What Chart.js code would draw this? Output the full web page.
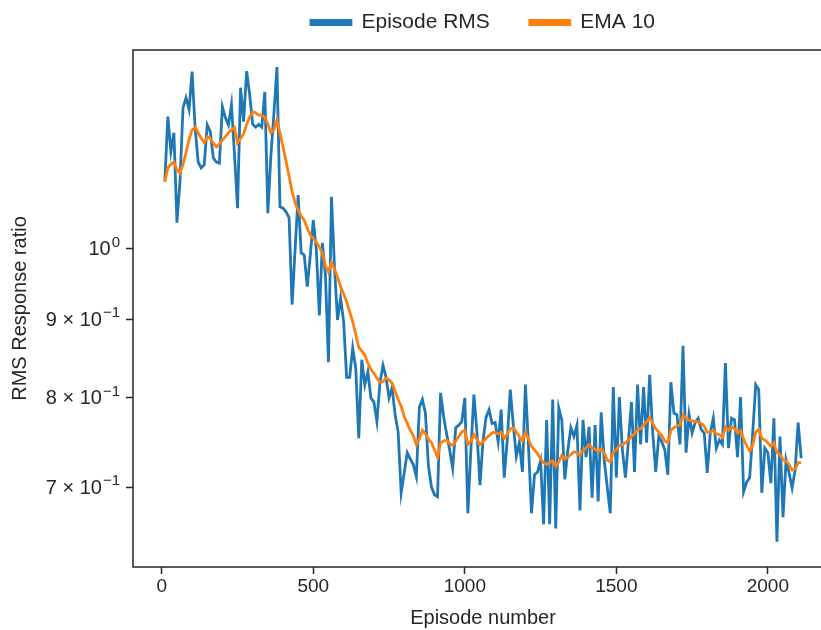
<!DOCTYPE html>
<html>
<head>
<meta charset="utf-8">
<script src="https://cdn.jsdelivr.net/npm/chart.js@4"></script>
<style>
  html, body { margin: 0; padding: 0; background: #fff; }
  #wrap { width: 821px; height: 630px; overflow: hidden; }
</style>
</head>
<body>
<div id="wrap"><canvas id="rmsChart" width="845" height="630"></canvas></div>
<script>
/* RMS response ratio per episode, log y axis, with 10-episode EMA */

const episodes = [
  10, 20, 30, 40, 50, 60, 70, 80, 90, 100,
  110, 120, 130, 140, 150, 160, 170, 180, 190, 200,
  210, 220, 230, 240, 250, 260, 270, 280, 290, 300,
  310, 320, 330, 340, 350, 360, 370, 380, 390, 400,
  410, 420, 430, 440, 450, 460, 470, 480, 490, 500,
  510, 520, 530, 540, 550, 560, 570, 580, 590, 600,
  610, 620, 630, 640, 650, 660, 670, 680, 690, 700,
  710, 720, 730, 740, 750, 760, 770, 780, 790, 800,
  810, 820, 830, 840, 850, 860, 870, 880, 890, 900,
  910, 920, 930, 940, 950, 960, 970, 980, 990, 1000,
  1010, 1020, 1030, 1040, 1050, 1060, 1070, 1080, 1090, 1100,
  1110, 1120, 1130, 1140, 1150, 1160, 1170, 1180, 1190, 1200,
  1210, 1220, 1230, 1240, 1250, 1260, 1270, 1280, 1290, 1300,
  1310, 1320, 1330, 1340, 1350, 1360, 1370, 1380, 1390, 1400,
  1410, 1420, 1430, 1440, 1450, 1460, 1470, 1480, 1490, 1500,
  1510, 1520, 1530, 1540, 1550, 1560, 1570, 1580, 1590, 1600,
  1610, 1620, 1630, 1640, 1650, 1660, 1670, 1680, 1690, 1700,
  1710, 1720, 1730, 1740, 1750, 1760, 1770, 1780, 1790, 1800,
  1810, 1820, 1830, 1840, 1850, 1860, 1870, 1880, 1890, 1900,
  1910, 1920, 1930, 1940, 1950, 1960, 1970, 1980, 1990, 2000,
  2010, 2020, 2030, 2040, 2050, 2060, 2070, 2080, 2090, 2100,
  2110
];

const episodeRms = [
  1.106, 1.219, 1.157, 1.19, 1.040, 1.106, 1.235, 1.254, 1.232, 1.304,
  1.199, 1.139, 1.129, 1.134, 1.204, 1.192, 1.146, 1.139, 1.137, 1.237,
  1.217, 1.204, 1.241, 1.151, 1.063, 1.273, 1.210, 1.305, 1.26, 1.205,
  1.20, 1.205, 1.20, 1.265, 1.055, 1.15, 1.225, 1.313, 1.065, 1.063,
  1.057, 1.048, 0.920, 1.00, 1.084, 0.994, 0.991, 0.945, 0.99, 1.044,
  0.998, 0.905, 1.009, 0.962, 0.844, 1.081, 0.972, 0.899, 0.929, 0.897,
  0.825, 0.825, 0.862, 0.837, 0.753, 0.847, 0.816, 0.832, 0.800, 0.795,
  0.772, 0.819, 0.840, 0.825, 0.800, 0.812, 0.780, 0.760, 0.694, 0.715,
  0.737, 0.730, 0.724, 0.711, 0.789, 0.798, 0.782, 0.722, 0.700, 0.692,
  0.690, 0.806, 0.778, 0.758, 0.740, 0.720, 0.765, 0.768, 0.772, 0.800,
  0.673, 0.740, 0.804, 0.760, 0.702, 0.750, 0.777, 0.786, 0.770, 0.771,
  0.749, 0.786, 0.710, 0.751, 0.810, 0.768, 0.733, 0.748, 0.716, 0.816,
  0.745, 0.673, 0.713, 0.716, 0.728, 0.662, 0.774, 0.662, 0.798, 0.658,
  0.788, 0.774, 0.708, 0.740, 0.765, 0.755, 0.768, 0.676, 0.774, 0.732,
  0.766, 0.689, 0.768, 0.685, 0.783, 0.729, 0.700, 0.673, 0.813, 0.710,
  0.801, 0.740, 0.710, 0.750, 0.795, 0.716, 0.816, 0.746, 0.813, 0.748,
  0.828, 0.760, 0.716, 0.755, 0.749, 0.740, 0.713, 0.819, 0.782, 0.780,
  0.746, 0.865, 0.737, 0.780, 0.759, 0.771, 0.776, 0.763, 0.759, 0.715,
  0.759, 0.776, 0.742, 0.751, 0.746, 0.843, 0.742, 0.776, 0.774, 0.732,
  0.801, 0.695, 0.705, 0.710, 0.759, 0.816, 0.810, 0.694, 0.742, 0.737,
  0.704, 0.776, 0.645, 0.755, 0.669, 0.729, 0.715, 0.699, 0.718, 0.771,
  0.731
];

const ema10 = [
  1.106, 1.129, 1.135, 1.139, 1.126, 1.120, 1.135, 1.155, 1.178, 1.195,
  1.200, 1.190, 1.180, 1.172, 1.183, 1.180, 1.172, 1.165, 1.170, 1.177,
  1.183, 1.190, 1.195, 1.199, 1.172, 1.180, 1.188, 1.205, 1.218, 1.228,
  1.226, 1.222, 1.222, 1.218, 1.205, 1.190, 1.195, 1.213, 1.190, 1.165,
  1.140, 1.115, 1.090, 1.071, 1.060, 1.050, 1.044, 1.032, 1.021, 1.016,
  1.010, 1.003, 0.994, 0.975, 0.966, 0.980, 0.970, 0.959, 0.945, 0.935,
  0.924, 0.910, 0.897, 0.880, 0.863, 0.858, 0.853, 0.843, 0.835, 0.830,
  0.824, 0.819, 0.820, 0.824, 0.822, 0.818, 0.808, 0.798, 0.790, 0.778,
  0.770, 0.762, 0.756, 0.746, 0.752, 0.762, 0.758, 0.752, 0.748, 0.740,
  0.732, 0.748, 0.750, 0.751, 0.747, 0.745, 0.750, 0.755, 0.760, 0.762,
  0.746, 0.750, 0.757, 0.752, 0.746, 0.749, 0.753, 0.756, 0.759, 0.760,
  0.758, 0.760, 0.753, 0.758, 0.764, 0.765, 0.760, 0.755, 0.750, 0.760,
  0.752, 0.744, 0.740, 0.736, 0.730, 0.726, 0.724, 0.726, 0.728, 0.722,
  0.727, 0.734, 0.730, 0.732, 0.735, 0.738, 0.737, 0.734, 0.739, 0.742,
  0.746, 0.742, 0.741, 0.738, 0.741, 0.737, 0.729, 0.727, 0.738, 0.740,
  0.745, 0.746, 0.748, 0.751, 0.755, 0.758, 0.763, 0.764, 0.768, 0.772,
  0.777, 0.770, 0.764, 0.760, 0.756, 0.750, 0.748, 0.762, 0.765, 0.767,
  0.768, 0.780, 0.776, 0.774, 0.773, 0.772, 0.772, 0.770, 0.767, 0.760,
  0.760, 0.762, 0.758, 0.757, 0.754, 0.766, 0.762, 0.766, 0.764, 0.759,
  0.762, 0.752, 0.745, 0.739, 0.745, 0.760, 0.763, 0.753, 0.751, 0.748,
  0.744, 0.748, 0.737, 0.735, 0.729, 0.728, 0.724, 0.718, 0.719, 0.726,
  0.726
];

const xTicks = [0, 500, 1000, 1500, 2000];
const yTicks = [0.7, 0.8, 0.9, 1.0];
// y tick labels in matplotlib's "m × 10^e" form: base text + superscript
const yTickBase = ['7 × 10', '8 × 10', '9 × 10', '10'];
const yTickExp = ['−1', '−1', '−1', '0'];

const BLUE = '#1f77b4';
const ORANGE = '#ff7f0e';
const INK = '#262626';
const FONT = 'Liberation Sans, Arial, sans-serif';

// matplotlib-style box around the axes
const frame = {
  id: 'frame',
  afterDatasetsDraw(chart) {
    const { ctx, chartArea: a } = chart;
    ctx.save();
    ctx.strokeStyle = INK;
    ctx.lineWidth = 1.5;
    ctx.strokeRect(a.left, a.top, a.right - a.left, a.bottom - a.top);
    ctx.restore();
  }
};

// log tick labels with a real superscript, placed at the scale's own tick pixels
const yLabels = {
  id: 'yLabels',
  afterDraw(chart) {
    const { ctx } = chart;
    const s = chart.scales.y;
    const right = s.right - 7 - 6;
    ctx.save();
    ctx.fillStyle = INK;
    ctx.textBaseline = 'middle';
    ctx.textAlign = 'left';
    yTicks.forEach((v, i) => {
      const y = s.getPixelForValue(v);
      ctx.font = `15px ${FONT}`;
      const ew = ctx.measureText(yTickExp[i]).width;
      ctx.font = `20px ${FONT}`;
      const bw = ctx.measureText(yTickBase[i]).width;
      ctx.fillText(yTickBase[i], right - ew - bw - 1, y + 1);
      ctx.font = `15px ${FONT}`;
      ctx.fillText(yTickExp[i], right - ew, y - 6);
    });
    ctx.restore();
  }
};

const pts = (ys) => episodes.map((x, i) => ({ x, y: ys[i] }));

new Chart(document.getElementById('rmsChart'), {
  type: 'line',
  data: {
    datasets: [
      { label: 'Episode RMS', data: pts(episodeRms), borderColor: BLUE, backgroundColor: BLUE,
        borderWidth: 2.8, pointRadius: 0, tension: 0, order: 2 },
      { label: 'EMA 10', data: pts(ema10), borderColor: ORANGE, backgroundColor: ORANGE,
        borderWidth: 2.8, pointRadius: 0, tension: 0, order: 1 }
    ]
  },
  options: {
    responsive: false,
    animation: false,
    devicePixelRatio: 1,
    // legend (71px tall) + 7px spacer axis, pulled up so the plot starts at y=50
    layout: { padding: { left: 2, right: 12, top: -28, bottom: 0 } },
    plugins: {
      tooltip: { enabled: false },
      legend: {
        position: 'top',
        fullSize: false,
        labels: {
          boxWidth: 40, boxHeight: 4, padding: 40, color: INK,
          font: { family: FONT, size: 21 },
          sort: (a, b) => a.datasetIndex - b.datasetIndex
        }
      }
    },
    scales: {
      x: {
        type: 'linear',
        min: -95,
        max: 2215,
        afterBuildTicks: (s) => { s.ticks = xTicks.map(v => ({ value: v })); },
        afterFit: (s) => { s.height = 63; },
        grid: { display: true, drawOnChartArea: false, drawTicks: true, tickLength: 7, tickWidth: 1.5, tickColor: INK },
        border: { display: false },
        ticks: { color: INK, padding: 1, maxRotation: 0, callback: (v) => String(v), font: { family: FONT, size: 19 } },
        title: { display: true, text: 'Episode number', color: INK, padding: { top: 2, bottom: 0 }, font: { family: FONT, size: 20 } }
      },
      // empty spacer between legend row and the top of the plot
      gap: {
        type: 'linear',
        position: 'top',
        afterFit: (s) => { s.height = 7; },
        grid: { display: false },
        border: { display: false },
        ticks: { display: false }
      },
      y: {
        type: 'logarithmic',
        min: 0.621,
        max: 1.347,
        afterBuildTicks: (s) => { s.ticks = yTicks.map(v => ({ value: v })); },
        afterFit: (s) => { s.width = 131; },
        grid: { display: true, drawOnChartArea: false, drawTicks: true, tickLength: 7, tickWidth: 1.5, tickColor: INK },
        border: { display: false },
        ticks: { display: false },
        title: { display: true, text: 'RMS Response ratio', color: INK, padding: { top: 6, bottom: 0 }, font: { family: FONT, size: 20 } }
      }
    }
  },
  plugins: [frame, yLabels]
});
</script>
</body>
</html>
